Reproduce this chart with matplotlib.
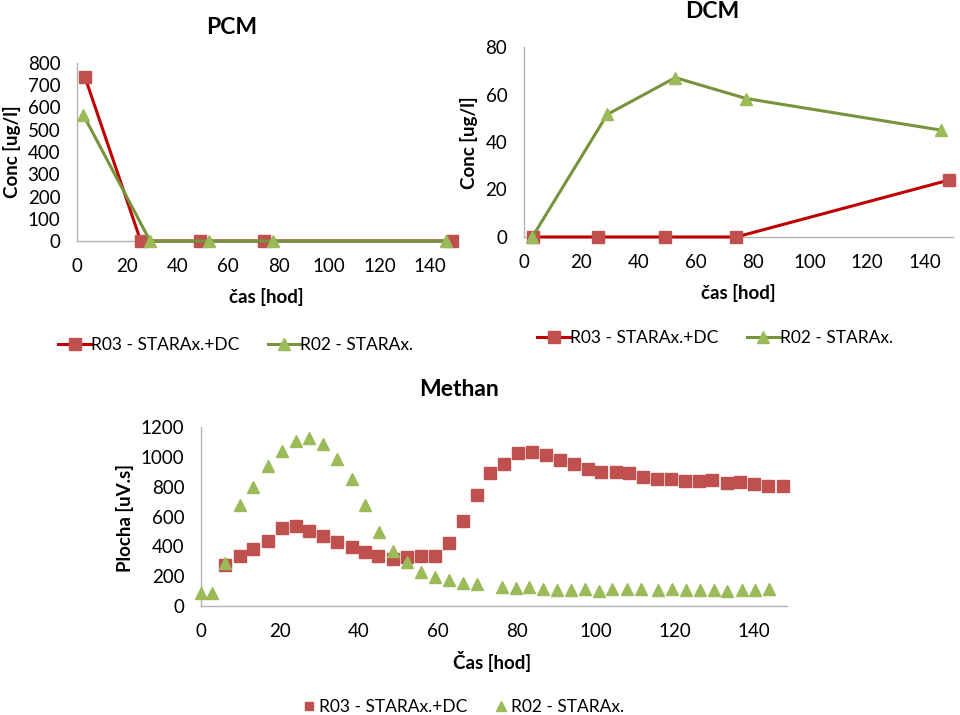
import matplotlib
matplotlib.use("Agg")
import matplotlib.pyplot as plt

plt.rcParams['font.family'] = ['Lato', 'DejaVu Sans']

# ---------------- data ----------------
pcm_r03_x = [3.2, 25.3, 48.8, 74.2, 149.0]
pcm_r03_y = [735, 0, 0, 0, 0]
pcm_r02_x = [2.5, 29.0, 52.5, 77.6, 146.4]
pcm_r02_y = [567, 0, 0, 0, 0]

dcm_r03_x = [3.1, 25.9, 49.2, 74.2, 148.7]
dcm_r03_y = [0, 0, 0, 0, 24.0]
dcm_r02_x = [2.9, 29.1, 52.9, 77.7, 145.8]
dcm_r02_y = [0, 51.6, 67.1, 58.3, 45.0]

met_r03_x = [6.1, 9.9, 13.2, 16.9, 20.4, 24.0, 27.4, 31.0, 34.5, 38.2,
             41.5, 44.9, 48.5, 52.1, 55.6, 59.2, 62.8, 66.3, 69.8, 73.3,
             76.8, 80.3, 83.9, 87.3, 90.9, 94.4, 97.9, 101.4, 105.0, 108.4,
             112.0, 115.5, 119.0, 122.5, 126.1, 129.5, 133.1, 136.6, 140.1, 143.6,
             147.3]
met_r03_y = [275, 335, 380, 435, 520, 536, 502, 471, 431, 393,
             364, 337, 315, 326, 335, 337, 424, 572, 744, 889,
             951, 1023, 1030, 1012, 978, 951, 918, 896, 896, 889,
             862, 849, 849, 838, 838, 844, 822, 829, 817, 804,
             804]
met_r02_x = [0.0, 2.7, 6.1, 9.9, 13.2, 16.9, 20.4, 24.0, 27.4, 31.0,
             34.5, 38.2, 41.5, 45.1, 48.5, 52.1, 55.6, 59.2, 62.8, 66.3,
             69.8, 76.1, 79.7, 83.1, 86.7, 90.2, 93.7, 97.2, 100.8, 104.2,
             107.8, 111.3, 115.8, 119.3, 122.8, 126.3, 129.9, 133.3, 136.9, 140.4,
             143.9]
met_r02_y = [89, 89, 286, 677, 800, 938, 1041, 1108, 1126, 1085,
             987, 849, 677, 498, 370, 297, 230, 196, 174, 152,
             145, 125, 119, 125, 114, 107, 107, 114, 100, 114,
             114, 114, 107, 114, 107, 107, 107, 100, 107, 107,
             114]

lab_r03 = "R03 - STARAx.+DC"
lab_r02 = "R02 - STARAx."
x_ticks = [0, 20, 40, 60, 80, 100, 120, 140]

# ---------------- style ----------------
RED_L = '#C00000'
RED_M = '#C0504D'
GRN_L = '#77933C'
GRN_M = '#9BBB59'
SPINE = '#B3B3B3'
FS_TICK = 13.5
FS_LAB = 13.5
FS_LEG = 12.5
FS_TIT = 16.5

fig = plt.figure(figsize=(9.6, 7.15), dpi=100)
W, H = 960, 715


def mkax(l, r, b, t):
    return fig.add_axes([l / W, 1 - b / H, (r - l) / W, (b - t) / H])


def style(ax):
    for s in ['top', 'right']:
        ax.spines[s].set_visible(False)
    for s in ['left', 'bottom']:
        ax.spines[s].set_color(SPINE)
        ax.spines[s].set_linewidth(1.0)
    ax.tick_params(length=0, labelsize=FS_TICK, pad=12, colors='black')
    ax.set_xticks(x_ticks)


# ---------------- PCM ----------------
ax1 = mkax(77, 455, 241, 63)
style(ax1)
ax1.plot(pcm_r03_x, pcm_r03_y, color=RED_L, lw=2.2, marker='s', ms=8.5,
         mfc=RED_M, mec=RED_M, label=lab_r03, clip_on=False, zorder=3)
ax1.plot(pcm_r02_x, pcm_r02_y, color=GRN_L, lw=2.2, marker='^', ms=9,
         mfc=GRN_M, mec=GRN_M, label=lab_r02, clip_on=False, zorder=3)
ax1.set_xlim(0, 150)
ax1.set_ylim(0, 800)
ax1.set_yticks(range(0, 801, 100))
fig.text(232 / W, 1 - 27 / H, "PCM", ha='center', va='center', fontsize=FS_TIT, fontweight='bold')
fig.text(266 / W, 1 - 297 / H, "čas [hod]", ha='center', va='center', fontsize=FS_LAB, fontweight='bold')
fig.text(12 / W, 1 - 152 / H, "Conc [ug/l]", ha='center', va='center', fontsize=FS_LAB,
         fontweight='bold', rotation=90)
ax1.legend(loc='center', bbox_to_anchor=(236 / W, 1 - 345 / H), bbox_transform=fig.transFigure,
           ncol=2, frameon=False, fontsize=FS_LEG, handlelength=1.9, handletextpad=0.0,
           columnspacing=1.6, borderpad=0)

# ---------------- DCM ----------------
ax2 = mkax(524, 953, 237, 47)
style(ax2)
ax2.plot(dcm_r03_x, dcm_r03_y, color=RED_L, lw=2.2, marker='s', ms=8.5,
         mfc=RED_M, mec=RED_M, label=lab_r03, clip_on=False, zorder=3)
ax2.plot(dcm_r02_x, dcm_r02_y, color=GRN_L, lw=2.2, marker='^', ms=9,
         mfc=GRN_M, mec=GRN_M, label=lab_r02, clip_on=False, zorder=3)
ax2.set_xlim(0, 150)
ax2.set_ylim(0, 80)
ax2.set_yticks(range(0, 81, 20))
fig.text(712 / W, 1 - 12 / H, "DCM", ha='center', va='center', fontsize=FS_TIT, fontweight='bold')
fig.text(738 / W, 1 - 293 / H, "čas [hod]", ha='center', va='center', fontsize=FS_LAB, fontweight='bold')
fig.text(469 / W, 1 - 143 / H, "Conc [ug/l]", ha='center', va='center', fontsize=FS_LAB,
         fontweight='bold', rotation=90)
ax2.legend(loc='center', bbox_to_anchor=(715 / W, 1 - 338 / H), bbox_transform=fig.transFigure,
           ncol=2, frameon=False, fontsize=FS_LEG, handlelength=1.9, handletextpad=0.0,
           columnspacing=1.6, borderpad=0)

# ---------------- Methan ----------------
ax3 = mkax(201, 787, 606, 427)
style(ax3)
ax3.plot(met_r03_x, met_r03_y, ls='none', marker='s', ms=8, mfc=RED_M, mec=RED_M,
         label=lab_r03, clip_on=False, zorder=3)
ax3.plot(met_r02_x, met_r02_y, ls='none', marker='^', ms=9, mfc=GRN_M, mec=GRN_M,
         label=lab_r02, clip_on=False, zorder=3)
ax3.set_xlim(0, 148.4)
ax3.set_ylim(0, 1200)
ax3.set_yticks(range(0, 1201, 200))
fig.text(459 / W, 1 - 390 / H, "Methan", ha='center', va='center', fontsize=FS_TIT, fontweight='bold')
fig.text(492 / W, 1 - 661 / H, "Čas [hod]", ha='center', va='center', fontsize=FS_LAB, fontweight='bold')
fig.text(125 / W, 1 - 518 / H, "Plocha [uV.s]", ha='center', va='center', fontsize=FS_LAB,
         fontweight='bold', rotation=90)
ax3.legend(loc='center', bbox_to_anchor=(463 / W, 1 - 707 / H), bbox_transform=fig.transFigure,
           ncol=2, frameon=False, fontsize=FS_LEG, handlelength=0.8, handletextpad=0.2,
           columnspacing=1.5, borderpad=0, markerscale=0.8)

fig.savefig("out.png", dpi=100)
